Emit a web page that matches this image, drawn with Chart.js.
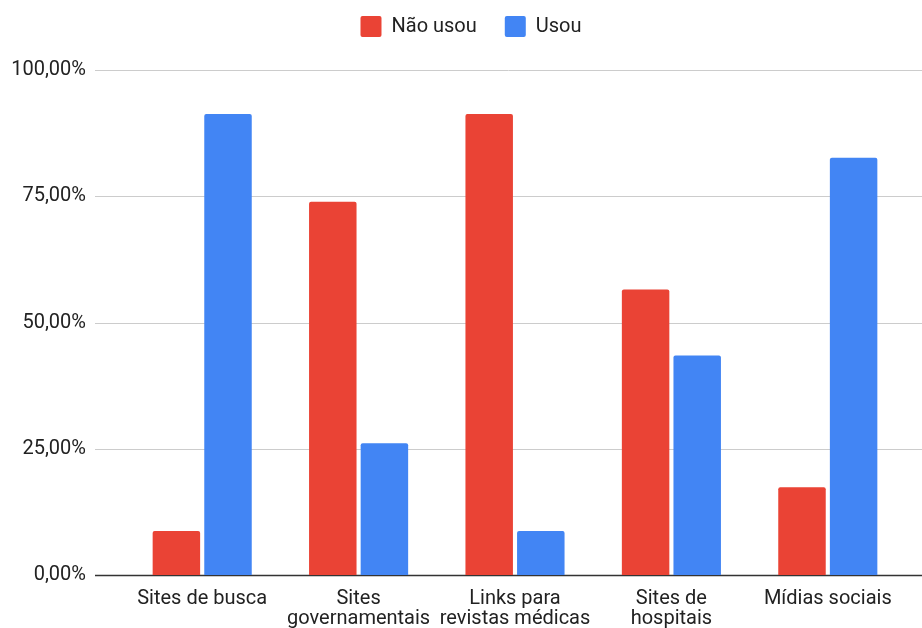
<!DOCTYPE html>
<html>
<head>
<meta charset="utf-8">
<script src="https://cdn.jsdelivr.net/npm/chart.js@4/dist/chart.umd.min.js"></script>
<style>
  html, body { margin: 0; padding: 0; background: #fff; }
  #wrap { width: 922px; height: 628px; }
</style>
</head>
<body>
<div id="wrap"><canvas id="chart" width="922" height="628"></canvas></div>
<script>
const categories = [
  'Sites de busca',
  ['Sites', 'governamentais'],
  ['Links para', 'revistas médicas'],
  ['Sites de', 'hospitais'],
  'Mídias sociais'
];
const naoUsou = [8.70, 73.91, 91.30, 56.52, 17.39];
const usou = [91.30, 26.09, 8.70, 43.48, 82.61];
const yTicks = [0, 25, 50, 75, 100];

const fmtPct = v => v.toFixed(2).replace('.', ',') + '%';
const FONT = 'Roboto';
const FSIZE = 20;

// grid lines run wider than the bar area, like the sheets chart
const wideGrid = {
  id: 'wideGrid',
  beforeDatasetsDraw(chart) {
    const { ctx, scales: { y } } = chart;
    ctx.save();
    yTicks.forEach(v => {
      const py = Math.round(y.getPixelForValue(v)) + 0.5;
      ctx.strokeStyle = v === 0 ? '#333333' : '#cccccc';
      ctx.lineWidth = v === 0 ? 1.5 : 1;
      ctx.beginPath();
      ctx.moveTo(95, py);
      ctx.lineTo(chart.width, py);
      ctx.stroke();
    });
    ctx.restore();
  }
};

// fixed legend block height so the plot top lands where the original has it,
// and nudge it right a bit (sheets centres it over the plot, not the canvas)
const legendPlace = {
  id: 'legendPlace',
  beforeInit(chart) {
    const fit = chart.legend.fit;
    chart.legend.fit = function () {
      fit.call(this);
      this.height = 82;
    };
  },
  afterLayout(chart) {
    chart.legend.left += 18;
    chart.legend.right += 18;
  }
};

new Chart(document.getElementById('chart'), {
  type: 'bar',
  data: {
    labels: categories,
    datasets: [
      { label: 'Não usou', data: naoUsou, backgroundColor: '#ea4335', borderRadius: 2, borderSkipped: 'bottom' },
      { label: 'Usou', data: usou, backgroundColor: '#4285f4', borderRadius: 2, borderSkipped: 'bottom' }
    ]
  },
  options: {
    responsive: false,
    animation: false,
    layout: { padding: { left: 0, right: 16, top: -12, bottom: 0 } },
    datasets: { bar: { categoryPercentage: 0.66, barPercentage: 0.92 } },
    plugins: {
      tooltip: { enabled: false },
      legend: {
        position: 'top',
        labels: {
          boxWidth: 21,
          boxHeight: 21,
          padding: 28,
          color: '#222',
          font: { family: FONT, size: FSIZE },
          useBorderRadius: true,
          borderRadius: 2
        }
      }
    },
    scales: {
      x: {
        grid: { display: false },
        border: { display: false },
        ticks: {
          color: '#222',
          font: { family: FONT, size: FSIZE, lineHeight: 1.0 },
          padding: 6,
          maxRotation: 0,
          autoSkip: false
        },
        afterFit(scale) { scale.height = 53; }
      },
      y: {
        min: 0,
        max: 100,
        afterBuildTicks(scale) { scale.ticks = yTicks.map(v => ({ value: v })); },
        grid: { display: false, drawTicks: false },
        border: { display: false },
        ticks: {
          color: '#222',
          font: { family: FONT, size: FSIZE },
          padding: 38,
          callback: v => fmtPct(v)
        },
        afterFit(scale) { scale.width = 124; }
      }
    }
  },
  plugins: [wideGrid, legendPlace]
});
</script>
</body>
</html>
